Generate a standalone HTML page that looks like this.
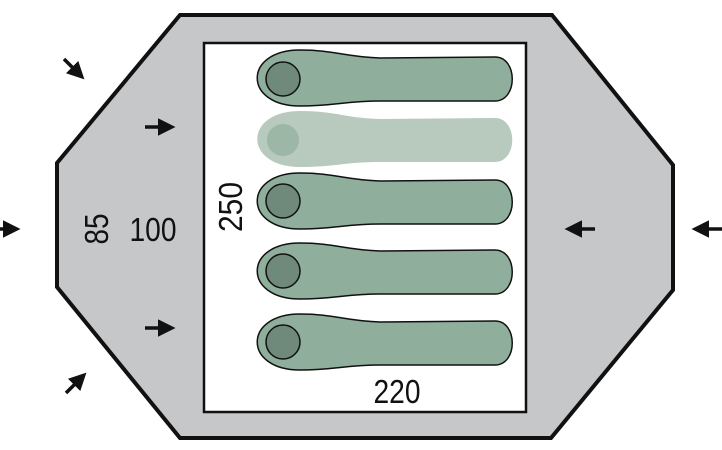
<!DOCTYPE html>
<html><head><style>body{margin:0;background:#fff}svg{display:block}</style></head><body>
<svg width="722" height="450" viewBox="0 0 722 450" xmlns="http://www.w3.org/2000/svg">
<defs>
<path id="bag" d="M300 -28 C335 -28 345 -21 380 -20 L495 -21 C518 -21 518 23 495 23 L380 23 C345 23 335 28 300 28 C243 28 243 -28 300 -28 Z"/>
<marker id="ah" markerWidth="5" markerHeight="5" refX="2" refY="2.5" orient="auto" markerUnits="strokeWidth"><path d="M0 0 L5 2.5 L0 5 Z" fill="#111"/></marker>
</defs>
<polygon points="180,15 552,15 673,165 673,290 551,438 180,438 57,287 57,163" fill="#c6c7c9" stroke="#111" stroke-width="4"/>
<rect x="204" y="43" width="322" height="369" fill="#fff" stroke="#111" stroke-width="2.5"/>
<g fill="#8fae9c" stroke="#111" stroke-width="1.5">
<use href="#bag" transform="translate(0,78)"/>
<use href="#bag" transform="translate(0,201)"/>
<use href="#bag" transform="translate(0,271)"/>
<use href="#bag" transform="translate(0,342)"/>
</g>
<use href="#bag" transform="translate(0,139)" fill="#b7cabd"/>
<circle cx="283" cy="140" r="16" fill="#9cb7a6"/>
<g fill="#6f8a7a" stroke="#111" stroke-width="1.5">
<circle cx="283" cy="79" r="17"/><circle cx="283" cy="201" r="17"/><circle cx="283" cy="271" r="17"/><circle cx="283" cy="342" r="17"/>
</g>
<g stroke="#111" stroke-width="3.5" marker-end="url(#ah)">
<line x1="64" y1="59" x2="77" y2="72"/>
<line x1="145" y1="127" x2="165" y2="127"/>
<line x1="145" y1="328" x2="165" y2="328"/>
<line x1="0" y1="229" x2="10" y2="229"/>
<line x1="595" y1="229" x2="575" y2="229"/>
<line x1="722" y1="229" x2="702" y2="229"/>
<line x1="66" y1="393" x2="79" y2="380"/>
</g>
<g font-family="Liberation Sans, sans-serif" font-size="33" fill="#111" text-anchor="middle">
<text transform="translate(108,229) rotate(-90)" textLength="31" lengthAdjust="spacingAndGlyphs">85</text>
<text x="153" y="241" textLength="47" lengthAdjust="spacingAndGlyphs">100</text>
<text transform="translate(242,207) rotate(-90)" textLength="50" lengthAdjust="spacingAndGlyphs">250</text>
<text x="397" y="403" textLength="47" lengthAdjust="spacingAndGlyphs">220</text>
</g>
</svg>
</body></html>
